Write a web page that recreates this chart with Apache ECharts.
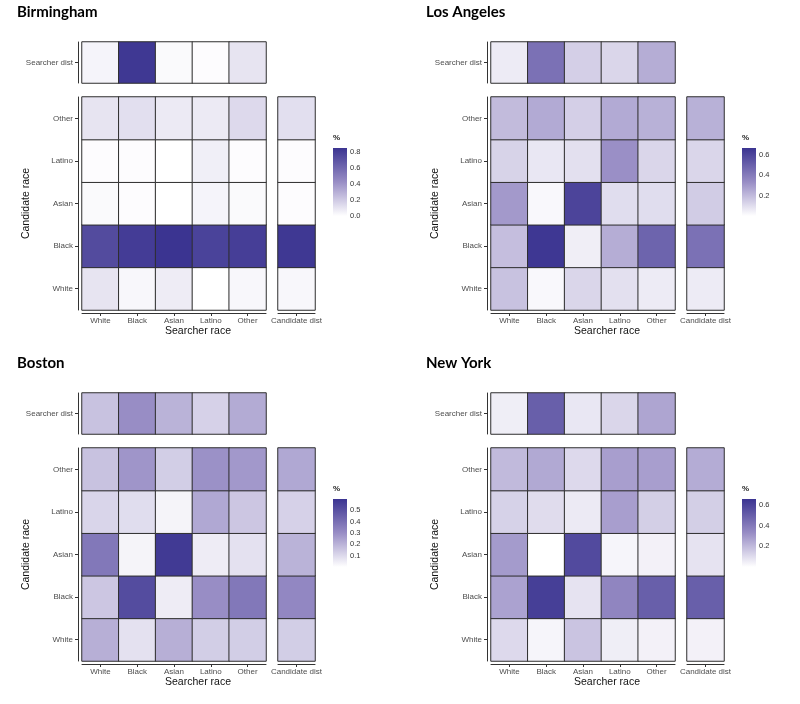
<!DOCTYPE html>
<html><head><meta charset="utf-8">
<script src="https://cdn.jsdelivr.net/npm/echarts@6/dist/echarts.min.js"></script>
<style>html,body{margin:0;padding:0;background:#fff}#c{width:800px;height:704px}</style>
</head><body><div id="c"></div>
<script>
// ---- data ----
const searcherRaces = ['White', 'Black', 'Asian', 'Latino', 'Other'];
const candidateRaces = ['White', 'Black', 'Asian', 'Latino', 'Other']; // bottom -> top
const searcherDistLabel = ['Searcher dist'];
const candidateDistLabel = ['Candidate dist'];

// matrix rows = candidate race (White, Black, Asian, Latino, Other), columns = searcher race
const birminghamSearcher = [0.04, 0.83, 0.02, 0.01, 0.10];
const birminghamMatrix = [
  [0.10, 0.03, 0.07, 0.00, 0.03],
  [0.74, 0.81, 0.85, 0.78, 0.80],
  [0.02, 0.01, 0.00, 0.04, 0.02],
  [0.01, 0.01, 0.00, 0.06, 0.01],
  [0.10, 0.12, 0.08, 0.08, 0.14]
];
const birminghamCandidate = [0.03, 0.83, 0.01, 0.01, 0.12];
const birminghamRange = [0, 0.85];
const birminghamTicks = [0, 0.2, 0.4, 0.6, 0.8];

const losAngelesSearcher = [0.06, 0.44, 0.14, 0.12, 0.24];
const losAngelesMatrix = [
  [0.18, 0.02, 0.12, 0.09, 0.06],
  [0.19, 0.66, 0.05, 0.24, 0.49],
  [0.30, 0.02, 0.61, 0.10, 0.10],
  [0.13, 0.07, 0.09, 0.33, 0.12],
  [0.20, 0.25, 0.14, 0.25, 0.23]
];
const losAngelesCandidate = [0.06, 0.44, 0.15, 0.12, 0.23];
const losAngelesRange = [0, 0.67];
const losAngelesTicks = [0.2, 0.4, 0.6];

const bostonSearcher = [0.16, 0.30, 0.20, 0.12, 0.22];
const bostonMatrix = [
  [0.21, 0.08, 0.21, 0.13, 0.13],
  [0.15, 0.52, 0.05, 0.30, 0.37],
  [0.37, 0.03, 0.58, 0.05, 0.08],
  [0.11, 0.09, 0.03, 0.23, 0.15],
  [0.16, 0.28, 0.13, 0.29, 0.27]
];
const bostonCandidate = [0.13, 0.32, 0.20, 0.12, 0.23];
const bostonRange = [0, 0.6];
const bostonTicks = [0.1, 0.2, 0.3, 0.4, 0.5];

const newYorkSearcher = [0.05, 0.50, 0.07, 0.12, 0.26];
const newYorkMatrix = [
  [0.11, 0.03, 0.17, 0.05, 0.04],
  [0.27, 0.62, 0.08, 0.36, 0.50],
  [0.29, 0.00, 0.58, 0.03, 0.04],
  [0.13, 0.10, 0.06, 0.28, 0.14],
  [0.20, 0.25, 0.11, 0.28, 0.28]
];
const newYorkCandidate = [0.04, 0.50, 0.08, 0.14, 0.24];
const newYorkRange = [0, 0.66];
const newYorkTicks = [0.2, 0.4, 0.6];

const cityNames = ['Birmingham', 'Los Angeles', 'Boston', 'New York'];

// ---- layout / style ----
const LOW = '#ffffff', MID = '#988dc5', HIGH = '#3b3491';
const FONT = 'Liberation Sans';
const panels = [
  {name: cityNames[0], s: birminghamSearcher, m: birminghamMatrix, c: birminghamCandidate, r: birminghamRange, t: birminghamTicks, ox: 0, oy: 0},
  {name: cityNames[1], s: losAngelesSearcher, m: losAngelesMatrix, c: losAngelesCandidate, r: losAngelesRange, t: losAngelesTicks, ox: 409, oy: 0},
  {name: cityNames[2], s: bostonSearcher, m: bostonMatrix, c: bostonCandidate, r: bostonRange, t: bostonTicks, ox: 0, oy: 351},
  {name: cityNames[3], s: newYorkSearcher, m: newYorkMatrix, c: newYorkCandidate, r: newYorkRange, t: newYorkTicks, ox: 409, oy: 351}
];

const grid = [], xAxis = [], yAxis = [], series = [], visualMap = [], title = [];
const axisLineStyle = {show: true, lineStyle: {color: '#333', width: 1}};
const tickStyle = {show: true, alignWithLabel: true, length: 3, lineStyle: {color: '#333', width: 1}};
const labelStyle = {fontSize: 8, color: '#4d4d4d', fontFamily: FONT};
const cellStyle = {borderColor: '#2e2e2e', borderWidth: 1};

panels.forEach((p, i) => {
  const g0 = grid.length;
  grid.push({left: p.ox + 82, top: p.oy + 42, width: 184, height: 41});
  grid.push({left: p.ox + 82, top: p.oy + 97, width: 184, height: 213});
  grid.push({left: p.ox + 278, top: p.oy + 97, width: 37, height: 213});
  grid.push({left: p.ox + 333, top: p.oy + 148, width: 14, height: 68});

  // top (searcher dist)
  const x0 = xAxis.length, y0 = yAxis.length;
  xAxis.push({type: 'category', gridIndex: g0, data: searcherRaces, show: false});
  yAxis.push({type: 'category', gridIndex: g0, data: searcherDistLabel, offset: 4,
    axisLine: axisLineStyle, axisTick: tickStyle, axisLabel: Object.assign({margin: 5}, labelStyle), splitLine: {show: false}});
  // main
  xAxis.push({type: 'category', gridIndex: g0 + 1, data: searcherRaces, offset: 3,
    axisLine: axisLineStyle, axisTick: tickStyle, axisLabel: Object.assign({margin: 4}, labelStyle)});
  yAxis.push({type: 'category', gridIndex: g0 + 1, data: candidateRaces, offset: 4,
    axisLine: axisLineStyle, axisTick: tickStyle, axisLabel: Object.assign({margin: 5}, labelStyle),
    name: 'Candidate race', nameLocation: 'middle', nameGap: 46,
    nameTextStyle: {fontSize: 10.5, color: '#111', fontFamily: FONT}});
  // candidate dist
  xAxis.push({type: 'category', gridIndex: g0 + 2, data: candidateDistLabel, offset: 3,
    axisLine: axisLineStyle, axisTick: tickStyle, axisLabel: Object.assign({margin: 4}, labelStyle)});
  yAxis.push({type: 'category', gridIndex: g0 + 2, data: candidateRaces, show: false});
  // colorbar
  xAxis.push({type: 'value', gridIndex: g0 + 3, min: 0, max: 1, show: false});
  const cbTick = {show: true, inside: true, length: 3, customValues: p.t, lineStyle: {color: '#ffffff', width: 1}};
  yAxis.push({type: 'value', gridIndex: g0 + 3, min: p.r[0], max: p.r[1], position: 'right',
    axisLine: {show: false}, splitLine: {show: false}, axisTick: cbTick,
    axisLabel: {customValues: p.t, margin: 3, fontSize: 7.5, color: '#333', fontFamily: FONT,
      formatter: v => Number(v).toFixed(1)}});
  yAxis.push({type: 'value', gridIndex: g0 + 3, min: p.r[0], max: p.r[1], position: 'left',
    axisLine: {show: false}, splitLine: {show: false}, axisTick: cbTick, axisLabel: {show: false}});

  const s0 = series.length;
  series.push({type: 'heatmap', xAxisIndex: x0, yAxisIndex: y0,
    data: p.s.map((v, j) => [j, 0, v]), itemStyle: cellStyle, emphasis: {disabled: true}});
  const mainData = [];
  p.m.forEach((row, r) => row.forEach((v, j) => mainData.push([j, r, v])));
  series.push({type: 'heatmap', xAxisIndex: x0 + 1, yAxisIndex: y0 + 1,
    data: mainData, itemStyle: cellStyle, emphasis: {disabled: true}});
  series.push({type: 'heatmap', xAxisIndex: x0 + 2, yAxisIndex: y0 + 2,
    data: p.c.map((v, r) => [0, r, v]), itemStyle: cellStyle, emphasis: {disabled: true}});
  series.push({type: 'custom', xAxisIndex: x0 + 3, yAxisIndex: y0 + 3, silent: true,
    data: [[p.r[0], p.r[1]]],
    renderItem: (params, api) => {
      const a = api.coord([0, api.value(1)]);
      const b = api.coord([1, api.value(0)]);
      return {type: 'rect', shape: {x: a[0], y: a[1], width: b[0] - a[0], height: b[1] - a[1]},
        style: {fill: new echarts.graphic.LinearGradient(0, 0, 0, 1, [
          {offset: 0, color: HIGH}, {offset: 0.5, color: MID}, {offset: 1, color: LOW}])}};
    }});

  visualMap.push({type: 'continuous', show: false, min: p.r[0], max: p.r[1],
    seriesIndex: [s0, s0 + 1, s0 + 2], inRange: {color: [LOW, MID, HIGH]}});

  title.push({text: p.name, left: p.ox + 17, top: p.oy + 5, padding: 0,
    textStyle: {fontSize: 15, fontWeight: 'bold', color: '#000', fontFamily: 'Lato'}});
  title.push({text: '%', left: p.ox + 333, top: p.oy + 134, padding: 0,
    textStyle: {fontSize: 8, fontWeight: 'bold', color: '#222', fontFamily: FONT}});
  title.push({text: 'Searcher race', left: p.ox + 198, textAlign: 'center', top: p.oy + 326, padding: 0,
    textStyle: {fontSize: 10.5, fontWeight: 'normal', color: '#111', fontFamily: FONT}});
});

const chart = echarts.init(document.getElementById('c'), null, {renderer: 'canvas'});
chart.setOption({
  animation: false,
  backgroundColor: '#fff',
  textStyle: {fontFamily: FONT},
  title, grid, xAxis, yAxis, visualMap, series
});
</script></body></html>
